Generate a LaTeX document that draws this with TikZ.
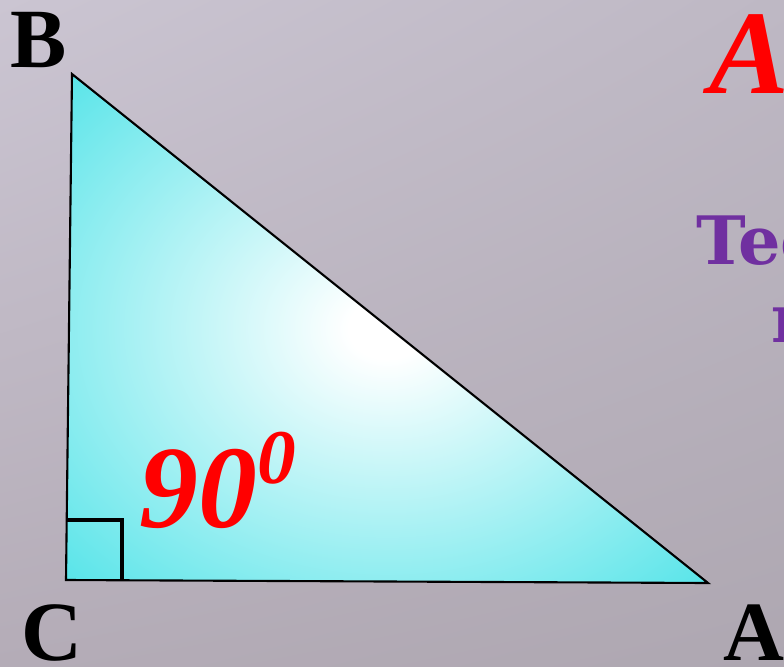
\documentclass[tikz,border=0pt]{standalone}
\usepackage{fontspec}
\setmainfont{Liberation Serif}
\newfontfamily\slabfont{DejaVu Serif}
\usetikzlibrary{positioning,shadings}

\definecolor{bgtl}{RGB}{203,197,210}
\definecolor{bgtr}{RGB}{190,184,196}
\definecolor{bgbl}{RGB}{180,172,183}
\definecolor{bgbr}{RGB}{174,167,177}
\definecolor{tricyan}{RGB}{74,226,231}
\definecolor{slidepurple}{RGB}{112,48,160}

\pgfdeclareradialshading{triglow}{\pgfpointorigin}{%
  color(0bp)=(white); color(3bp)=(white); color(38bp)=(tricyan); color(70bp)=(tricyan)}

\begin{document}
\begin{tikzpicture}[
  x=0.02cm, y=-0.02cm,
  vertex/.style={font=\fontsize{48}{48}\selectfont\bfseries, inner sep=0pt, anchor=base west},
  title/.style={font=\fontsize{68}{68}\selectfont\bfseries\itshape, text=red, inner sep=0pt, anchor=base west},
  heading/.style={font=\fontsize{38}{38}\selectfont\slabfont\bfseries, text=slidepurple, inner sep=0pt, anchor=base west},
  side/.style={draw=black, line width=1.2pt, line join=miter}
]
\useasboundingbox (0,0) rectangle (784,666);
\clip (0,0) rectangle (784,666);
\shade[upper left=bgtl, upper right=bgtr, lower left=bgbl, lower right=bgbr] (0,0) rectangle (784,666);

% corners of the triangle
\coordinate (B) at (72,74);
\coordinate (C) at (66,580);
\coordinate (A) at (708,583);

\shade[shading=triglow] (B) -- (C) -- (A) -- cycle;
\draw[side] (B) -- (C) -- (A) -- cycle;

% right angle mark
\coordinate (m1) at (66,520);
\coordinate (m2) at (122,520);
\coordinate (m3) at (122,580);
\draw[line width=1.8pt] (m1) -- (m2) -- (m3);

% labels
\node[vertex] (labB) at (10,67) {B};
\node[vertex] (labC) at (21,660) {C};
\node[vertex] (labA) at (723,660) {A};
\node[font=\fontsize{67}{67}\selectfont\bfseries\itshape, text=red, inner sep=0pt, anchor=base west] (angle) at (139,527)
  {90\raisebox{25pt}{\fontsize{44}{44}\selectfont 0}};

\node[title] (ttl) at (709,93) {A};
\node[heading] (hd1) at (696,264) {Tec};
\node[heading] (hd2) at (771,342) {r};
\end{tikzpicture}
\end{document}
